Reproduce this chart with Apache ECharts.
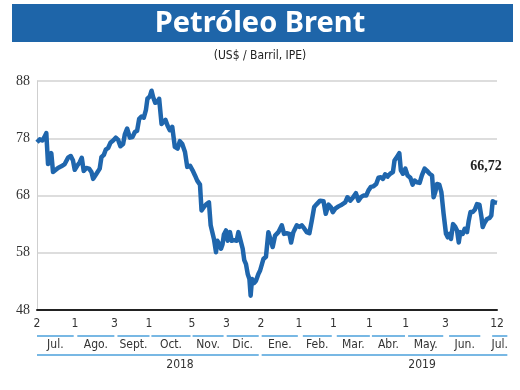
<!DOCTYPE html>
<html><head><meta charset="utf-8">
<script src="https://cdn.jsdelivr.net/npm/echarts@6/dist/echarts.min.js"></script>
<style>html,body{margin:0;padding:0;background:#fff}#c{width:520px;height:390px}</style>
</head><body><div id="c"></div>
<script>
// trading-day index (0 = 2 Jul 2018, 267 = 12 Jul 2019)
const tradingDay = [0.0,1.6,3.1,4.5,5.4,6.4,7.4,8.3,9.3,10.3,12.2,14.1,16.1,18.0,19.6,20.9,21.9,23.3,24.8,26.0,27.1,28.7,30.2,31.6,32.6,34.5,36.4,37.4,38.8,39.9,41.3,42.6,44.2,45.7,47.1,48.4,50.0,51.0,52.3,53.9,55.4,56.8,58.1,59.3,60.7,62.0,63.2,64.1,65.5,66.5,67.4,68.6,69.8,70.9,72.3,73.3,74.6,75.8,77.1,78.5,80.0,81.6,82.9,84.3,85.9,87.2,88.8,90.3,91.7,93.0,94.6,95.5,96.9,98.4,99.8,100.8,101.9,102.7,103.9,104.7,105.8,106.8,107.7,108.5,109.7,110.7,112.0,113.0,114.3,115.9,116.9,118.2,119.4,120.3,121.3,122.3,123.3,124.0,124.8,126.0,127.1,128.5,129.5,131.4,132.9,134.3,135.3,136.8,138.2,140.1,142.1,143.4,145.0,146.5,147.5,148.8,150.8,152.3,153.7,155.2,156.6,158.1,159.5,160.9,162.4,164.3,166.3,167.6,169.2,170.5,171.7,173.1,175.0,176.9,178.9,180.2,181.8,183.3,185.1,186.6,188.0,189.5,191.1,192.4,193.8,195.3,196.9,198.2,199.6,200.8,202.1,203.5,205.0,206.6,207.5,208.9,210.3,211.2,212.4,213.8,215.1,216.7,218.0,219.2,220.5,222.1,223.4,225.0,226.4,227.9,229.3,230.2,231.2,232.2,233.5,234.7,236.0,237.4,238.4,239.5,240.3,241.5,242.8,243.8,244.8,245.7,247.1,248.3,249.6,250.6,251.6,252.9,254.1,255.4,256.8,258.0,258.7,259.9,261.2,262.8,263.7,264.5,265.7,267.0];
const brent = [77.3,77.8,77.6,78.3,78.9,73.5,74.1,75.4,72.1,72.4,72.8,73.1,73.5,74.6,74.9,74.1,72.5,73.2,73.8,74.6,72.3,72.8,72.7,72.1,70.9,71.8,72.7,74.7,75.1,76.0,76.3,77.2,77.6,78.1,77.7,76.6,77.0,78.7,79.7,78.1,78.2,79.1,79.3,81.4,81.8,81.6,82.9,84.9,85.3,86.3,85.2,84.2,84.3,84.9,80.5,80.8,81.2,80.2,79.4,80.0,76.5,76.2,77.5,77.0,75.6,73.0,73.2,72.4,71.5,70.6,69.9,65.4,66.0,66.5,66.8,62.8,63.0,60.4,58.1,60.1,59.5,58.7,59.5,61.2,61.9,60.1,61.6,60.1,60.2,60.1,61.6,60.1,58.7,56.7,56.0,54.3,53.4,50.5,53.4,52.7,53.1,54.3,54.9,56.9,57.3,61.6,61.6,59.0,61.0,61.6,62.8,61.3,61.4,61.3,59.8,61.6,62.8,62.5,62.8,62.2,61.6,61.4,63.6,66.0,66.5,67.1,67.0,64.8,66.4,66.0,65.1,65.7,66.1,66.4,66.8,67.7,67.1,67.6,68.4,67.1,67.7,68.0,68.0,68.9,69.5,69.6,70.0,71.1,71.2,70.9,71.7,71.3,71.8,72.1,74.1,74.7,75.4,72.4,71.8,72.7,71.5,71.1,69.9,70.6,70.3,70.2,71.5,72.7,72.3,71.8,71.5,67.7,68.6,70.0,69.9,68.6,64.8,61.3,60.7,61.3,60.4,63.0,62.5,61.9,59.8,61.6,61.3,62.2,61.6,63.6,65.1,65.1,65.5,66.5,66.4,64.2,62.5,63.3,63.9,64.1,64.5,67.0,66.8,66.72];
const tickDays = [0,22,45,65,90,110,130,152,172,193,214,237,267];
const tickLabels = ['2','1','3','1','5','3','2','1','1','1','1','3','12'];
const months = ['Jul.','Ago.','Sept.','Oct.','Nov.','Dic.','Ene.','Feb.','Mar.','Abr.','May.','Jun.','Jul.'];
const monthStart = [0,23.4,46.7,66.4,90.3,110.1,130.4,154.3,174.0,194.4,215.4,239.2,264.2];
const monthEnd = [21.3,44.9,65.3,89.1,108.3,128.7,151.4,171.1,193.2,213.6,235.8,257.3,273.0];
const years = ['2018','2019'];
const yearStart = [0,130.4];
const yearEnd = [128.7,273.0];
const yearLabelAt = [83,223.5];
const yTicks = [48,58,68,78,88];
const lastLabel = '66,72';

const narrow = '"Liberation Sans Narrow","DejaVu Sans Condensed",sans-serif';
const chart = echarts.init(document.getElementById('c'));

function bracket(names, starts, ends, labelAt, dy, ty) {
  return function (params, api) {
    const i = params.dataIndex;
    const p0 = api.coord([starts[i], yTicks[0]]);
    const p1 = api.coord([ends[i], yTicks[0]]);
    const lx = labelAt ? api.coord([labelAt[i], yTicks[0]])[0] : (p0[0] + p1[0]) / 2;
    return {
      type: 'group',
      children: [
        { type: 'line', shape: { x1: p0[0], y1: p0[1] + dy, x2: p1[0], y2: p1[1] + dy },
          style: { stroke: '#78b8e4', lineWidth: 2 } },
        { type: 'text', style: { text: names[i], x: lx, y: p0[1] + ty, align: 'center',
          verticalAlign: 'middle', font: '12px ' + narrow, fill: '#333' } }
      ]
    };
  };
}

const lineData = tradingDay.map((d, i) => [d, brent[i]]);
const lastPoint = lineData[lineData.length - 1];

chart.setOption({
  animation: false,
  backgroundColor: '#fff',
  graphic: [{ type: 'rect', shape: { x: 12, y: 4, width: 501, height: 38 }, style: { fill: '#1e65a9' }, z: -1 }],
  title: [
    { text: 'Petróleo Brent', left: 'center', top: 4,
      textStyle: { color: '#fff', fontFamily: '"Noto Sans"', fontWeight: 'bold', fontSize: 29 } },
    { text: '(US$ / Barril, IPE)', left: 'center', top: 45,
      textStyle: { color: '#222', fontFamily: narrow, fontWeight: 'normal', fontSize: 12 } }
  ],
  grid: { left: 37, right: 23, top: 81, bottom: 80, containLabel: false },
  xAxis: {
    type: 'value', min: 0, max: 267,
    axisLine: { show: true, lineStyle: { color: '#222', width: 2 } },
    axisTick: { show: false },
    splitLine: { show: false },
    axisLabel: {
      customValues: tickDays, margin: 8,
      formatter: v => tickLabels[tickDays.indexOf(v)] || '',
      fontFamily: narrow, fontSize: 12, color: '#333'
    }
  },
  yAxis: {
    type: 'value', min: 48, max: 88, interval: 10,
    axisLine: { show: true, lineStyle: { color: '#cfcfcf', width: 1 } },
    axisTick: { show: false },
    splitLine: { show: true, lineStyle: { color: '#d2d2d2', width: 1.5 } },
    axisLabel: { margin: 7, fontFamily: '"Liberation Serif",serif', fontSize: 14, color: '#333' }
  },
  series: [
    { type: 'line', data: lineData, showSymbol: false, symbol: 'none',
      lineStyle: { color: '#1f66ad', width: 4.5, join: 'round' }, z: 3,
      markPoint: {
        symbol: 'circle', symbolSize: 1, itemStyle: { color: 'rgba(0,0,0,0)' }, silent: true,
        data: [{ coord: lastPoint }],
        label: { show: true, formatter: lastLabel, position: 'top', offset: [-11, -24],
          fontFamily: '"Liberation Serif",serif', fontWeight: 'bold', fontSize: 14, color: '#222' }
      } },
    { type: 'custom', renderItem: bracket(months, monthStart, monthEnd, null, 26, 35),
      data: months.map((m, i) => [monthStart[i], monthEnd[i], yTicks[0]]),
      encode: { x: [0, 1], y: 2 }, clip: false, silent: true },
    { type: 'custom', renderItem: bracket(years, yearStart, yearEnd, yearLabelAt, 45, 55),
      data: years.map((m, i) => [yearStart[i], yearEnd[i], yTicks[0]]),
      encode: { x: [0, 1], y: 2 }, clip: false, silent: true }
  ]
});
</script></body></html>
